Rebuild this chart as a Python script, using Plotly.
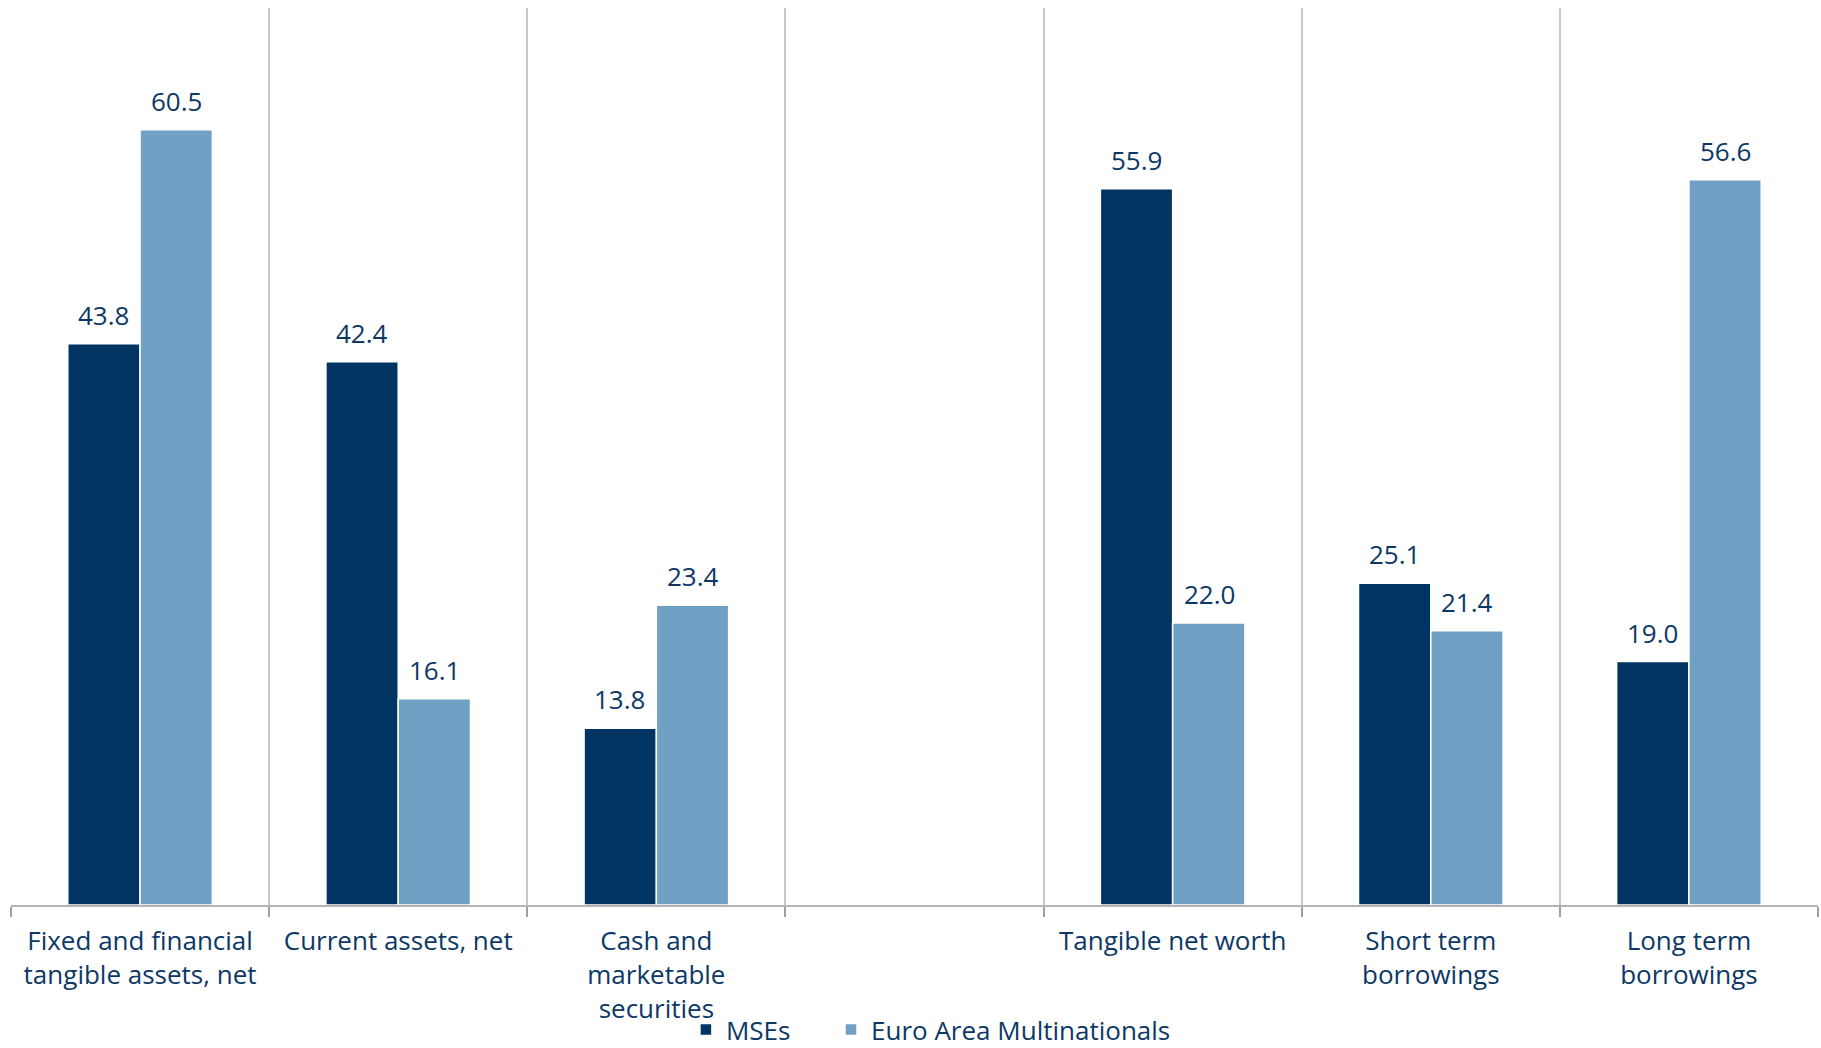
import plotly.graph_objects as go

categories = [
    "Fixed and financial<br>tangible assets, net",
    "Current assets, net",
    "Cash and<br>marketable<br>securities",
    " ",
    "Tangible net worth",
    "Short term<br>borrowings",
    "Long term<br>borrowings",
]
mses = [43.8, 42.4, 13.8, None, 55.9, 25.1, 19.0]
euro_area = [60.5, 16.1, 23.4, None, 22.0, 21.4, 56.6]

DARK = "#003462"
LIGHT = "#70A1C5"
TEXT = "#0D3866"
FONT = "Open Sans"

fig = go.Figure()
for name, vals, color, leg in [("MSEs", mses, DARK, "legend"),
                               ("Euro Area Multinationals", euro_area, LIGHT, "legend2")]:
    fig.add_trace(go.Bar(
        x=categories, y=vals, name=name,
        marker=dict(color=color, line=dict(color="white", width=1.5)),
        offsetgroup=name, legend=leg,
    ))

# value labels above each bar, placed from the same series values
for xshift_sign, vals in [(-1, mses), (1, euro_area)]:
    for cat, v in zip(categories, vals):
        if v is None:
            continue
        fig.add_annotation(
            x=cat, y=v, xref="x", yref="y",
            text=f"{v:.1f}", showarrow=False,
            yanchor="bottom", yshift=9, xshift=xshift_sign * 36.5,
            font=dict(family=FONT, size=26, color=TEXT),
        )

legend_style = dict(
    orientation="h", xanchor="left",
    y=-0.165, yanchor="bottom",
    font=dict(family=FONT, size=26, color=TEXT),
    bgcolor="rgba(0,0,0,0)",
)

fig.update_layout(
    width=1821, height=1048,
    margin=dict(l=11, r=3, t=8, b=143, autoexpand=False),
    paper_bgcolor="white", plot_bgcolor="white",
    barmode="group", bargap=0.44, bargroupgap=0.0,
    font=dict(family=FONT, size=26, color=TEXT),
    showlegend=True,
    legend=dict(x=0.3735, **legend_style),
    legend2=dict(x=0.4538, **legend_style),
)
fig.update_xaxes(
    type="category", tickson="boundaries", automargin=False,
    showgrid=True, gridcolor="#C8C8C8", gridwidth=2,
    showline=True, linecolor="#B4B4B4", linewidth=2,
    ticks="outside", ticklen=10, tickcolor="#A0A0A0", tickwidth=2,
    ticklabelstandoff=12,
    tickfont=dict(family=FONT, size=26, color=TEXT),
)
fig.update_yaxes(
    range=[0, 70], showgrid=False, showticklabels=False,
    zeroline=False, showline=False, ticks="", automargin=False,
)

fig.write_html("out.html")
